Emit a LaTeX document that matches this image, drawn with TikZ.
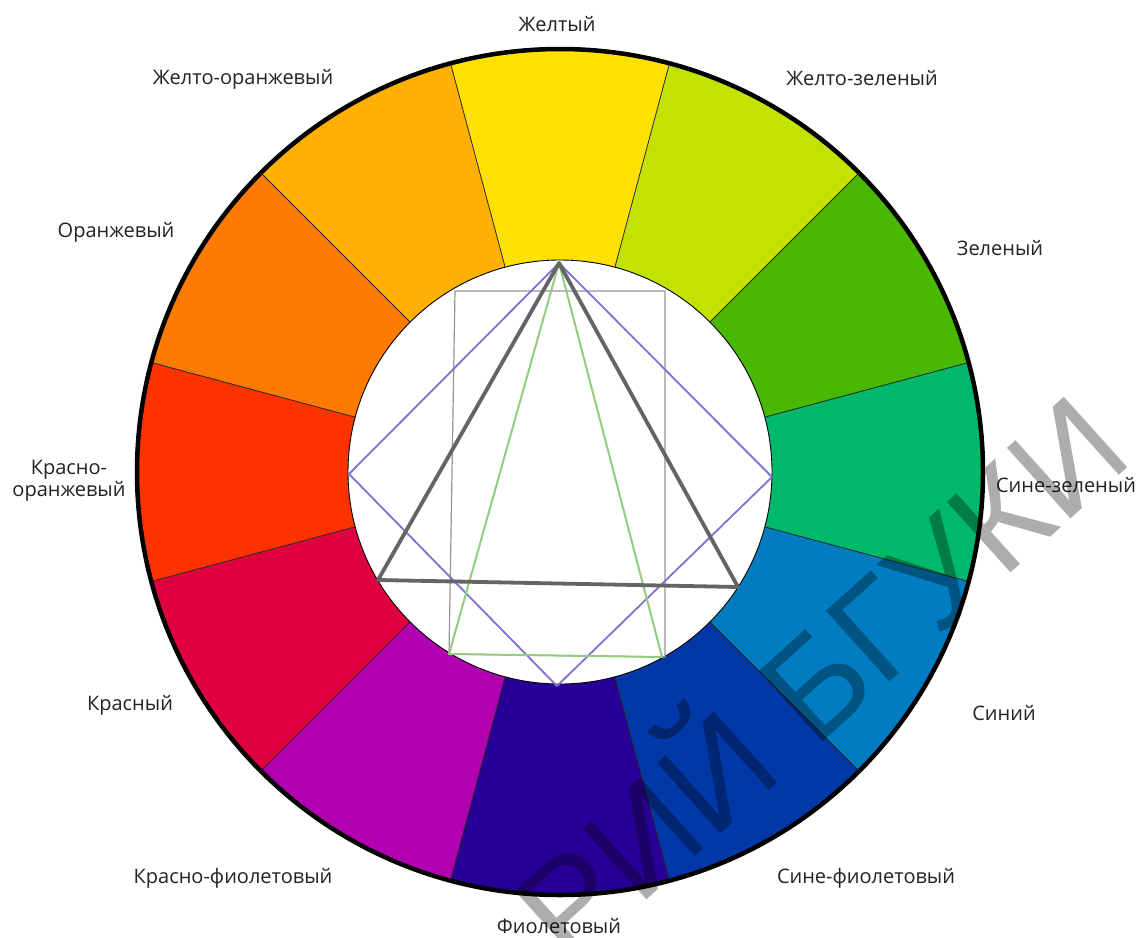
\documentclass[tikz,border=0pt]{standalone}
\usepackage{fontspec}
\setmainfont{Open Sans}
\newfontfamily\wmfont{Liberation Sans}
\usetikzlibrary{calc}
\definecolor{cY}{RGB}{255,225,0}
\definecolor{cYG}{RGB}{194,226,0}
\definecolor{cG}{RGB}{72,184,0}
\definecolor{cBG}{RGB}{0,184,106}
\definecolor{cB}{RGB}{0,125,192}
\definecolor{cBV}{RGB}{0,56,168}
\definecolor{cV}{RGB}{40,0,152}
\definecolor{cRV}{RGB}{176,0,176}
\definecolor{cR}{RGB}{224,0,64}
\definecolor{cRO}{RGB}{255,50,0}
\definecolor{cO}{RGB}{255,122,0}
\definecolor{cYO}{RGB}{255,176,0}
\definecolor{txt}{RGB}{35,35,35}
\definecolor{diam}{RGB}{125,115,210}
\definecolor{gtri}{RGB}{145,205,125}
\definecolor{ktri}{RGB}{100,100,100}
\definecolor{rect}{RGB}{150,150,150}
\begin{document}
\begin{tikzpicture}[x=1pt,y=-1pt,
  lbl/.style={font=\fontsize{20}{24}\selectfont, text=txt, inner sep=0pt},
  divider/.style={draw=black!85, line width=0.8pt},
  rim/.style={draw=black, line width=4.5pt},
  hole/.style={draw=black, fill=white, line width=0.9pt},
  triad/.style={draw=ktri, line width=3.8pt, line join=round},
  greentri/.style={draw=gtri, line width=2pt, line join=round},
  square/.style={draw=diam, line width=1.8pt, line join=round},
  frame/.style={draw=rect, line width=1.2pt},
  wmark/.style={font=\wmfont\fontsize{138}{138}\selectfont, text=black, text opacity=0.32, rotate=42, inner sep=0pt}]
\useasboundingbox (0,0) rectangle (1140,937);
\fill[white] (0,0) rectangle (1140,937);
\coordinate (C) at (560,472);
\def\Ro{423}
\def\Ri{212}
% segments
\foreach \i/\col in {0/cY,1/cYG,2/cG,3/cBG,4/cB,5/cBV,6/cV,7/cRV,8/cR,9/cRO,10/cO,11/cYO} {
  \pgfmathsetmacro\aa{30*\i-105}
  \pgfmathsetmacro\bb{30*\i-75}
  \fill[\col] ($(C)+(\aa:\Ro)$) arc[start angle=\aa, end angle=\bb, radius=\Ro]
     -- ($(C)+(\bb:\Ri)$) arc[start angle=\bb, end angle=\aa, radius=\Ri] -- cycle;
}
\foreach \i in {0,...,11} {
  \pgfmathsetmacro\aa{30*\i-105}
  \draw[divider] ($(C)+(\aa:\Ri)$) -- ($(C)+(\aa:\Ro)$);
}
\draw[rim] (C) circle[radius=\Ro];
\draw[hole] (C) circle[radius=\Ri];
% inner geometry
\coordinate (T) at (559,263);
\coordinate (KL) at (378,580);
\coordinate (KR) at (738,587);
\coordinate (GL) at (449,654);
\coordinate (GR) at (662,657);
\coordinate (RTL) at (455,291);
\coordinate (RTR) at (665,291);
\coordinate (RBR) at (665,657);
\coordinate (DR) at (772,477);
\coordinate (DB) at (557,686);
\coordinate (DL) at (349,474);
\draw[frame] (RTL) -- (RTR) -- (RBR) -- (GL) -- cycle;
\draw[square] (T) -- (DR) -- (DB) -- (DL) -- cycle;
\draw[greentri] (T) -- (GR) -- (GL) -- cycle;
\draw[triad] (T) -- (KR) -- (KL) -- cycle;
% labels
\node[lbl] (l1) at (557,24) {Желтый};
\node[lbl] (l2) at (862,78) {Желто-зеленый};
\node[lbl] (l3) at (1000,248) {Зеленый};
\node[lbl] (l4) at (1066,485) {Сине-зеленый};
\node[lbl] (l5) at (1004,713) {Синий};
\node[lbl] (l6) at (866,878) {Сине-фиолетовый};
\node[lbl] (l7) at (559,926) {Фиолетовый};
\node[lbl] (l8) at (233,878) {Красно-фиолетовый};
\node[lbl] (l9) at (130,705) {Красный};
\node[lbl, align=center, font=\fontsize{20}{22}\selectfont] (l10) at (69,481) {Красно-\\оранжевый};
\node[lbl] (l11) at (116,232) {Оранжевый};
\node[lbl] (l12) at (243,79) {Желто-оранжевый};
% watermark
\node[wmark] (wm) at (812,669) {РИЙ БГУКИ};
\end{tikzpicture}
\end{document}
